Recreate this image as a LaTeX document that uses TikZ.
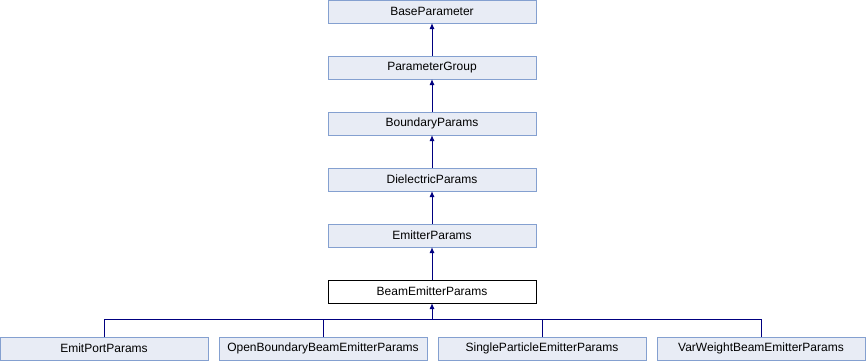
\documentclass[tikz,border=0pt]{standalone}
\usepackage{fontspec}
\setmainfont{Liberation Sans}
\usepackage{xcolor}
\usetikzlibrary{arrows.meta,positioning}
\definecolor{clsfill}{HTML}{E8ECF5}
\definecolor{clsline}{HTML}{84A0D0}
\definecolor{inhline}{HTML}{000080}
\tikzset{
  cls/.style  ={draw=clsline,fill=clsfill,line width=1pt,minimum width=208pt,minimum height=23pt,
                inner sep=0pt,outer sep=0pt,font=\fontsize{12}{14}\selectfont},
  cur/.style  ={cls,draw=black,fill=white},
  inh/.style  ={-{Latex[length=6pt,width=5pt]},draw=inhline,line width=1pt},
  conn/.style ={draw=inhline,line width=1pt},
}

\begin{document}
\begin{tikzpicture}[x=1pt,y=-1pt,node distance=33pt]
  \useasboundingbox (0,0) rectangle (866,360);
  % chain of base classes
  \node[cls] (base)  at (432,11.5) {BaseParameter};
  \node[cls,below=of base]  (group) {ParameterGroup};
  \node[cls,below=of group] (bound) {BoundaryParams};
  \node[cls,below=of bound] (diel)  {DielectricParams};
  \node[cls,below=of diel]  (emit)  {EmitterParams};
  \node[cur,below=of emit]  (beam)  {BeamEmitterParams};
  \draw[inh] (group) -- (base);
  \draw[inh] (bound) -- (group);
  \draw[inh] (diel)  -- (bound);
  \draw[inh] (emit)  -- (diel);
  \draw[inh] (beam)  -- (emit);
  % derived classes
  \node[cls] (port) at (104,348.5) {EmitPortParams};
  \node[cls,right=11pt of port]   (open)   {OpenBoundaryBeamEmitterParams};
  \node[cls,right=11pt of open]   (single) {SingleParticleEmitterParams};
  \node[cls,right=11pt of single] (varw)   {VarWeightBeamEmitterParams};
  \coordinate (join) at ([yshift=-16pt]beam.south);
  \draw[inh] (join) -- (beam.south);
  \draw[conn] (port.north) |- (join);
  \draw[conn] (open.north) |- (join);
  \draw[conn] (single.north) |- (join);
  \draw[conn] (varw.north) |- (join);
\end{tikzpicture}
\end{document}
